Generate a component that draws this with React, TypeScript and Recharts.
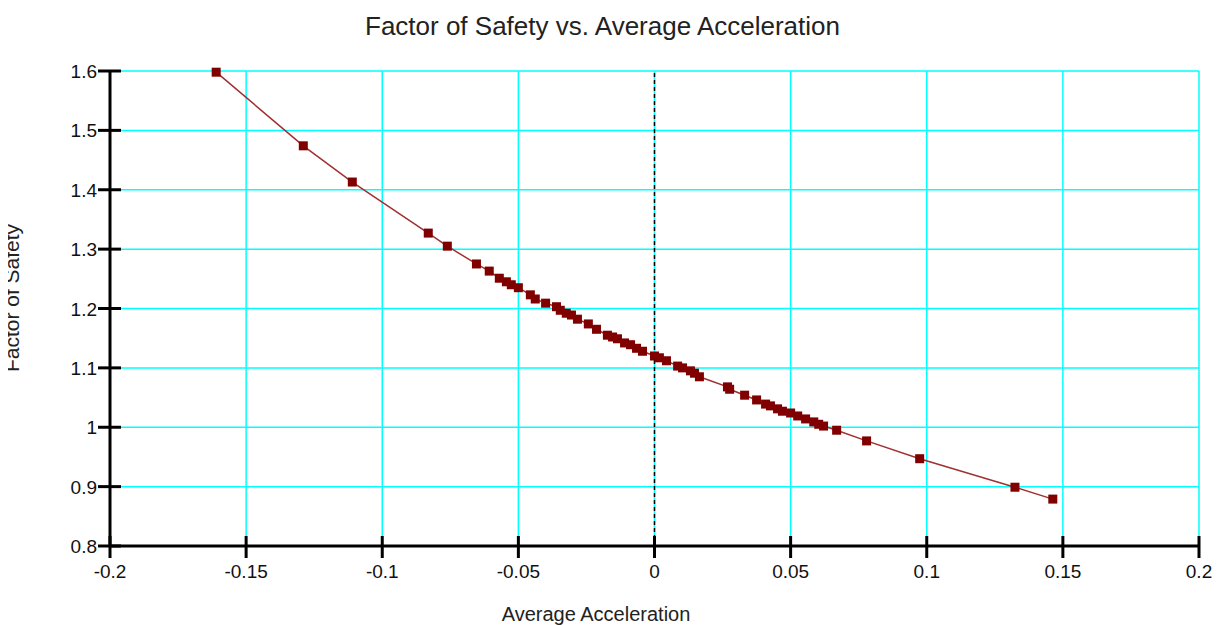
import { CartesianGrid, ReferenceLine, Scatter, ScatterChart, XAxis, YAxis } from 'recharts';

// values
const acceleration = [
	-0.161, -0.129, -0.111, -0.0831, -0.0761, -0.0654, -0.0607, -0.057, -0.0544, -0.0526, -0.05, -0.0456,
	-0.0438, -0.04, -0.036, -0.0346, -0.0324, -0.0305, -0.0283, -0.0243, -0.0213, -0.0173, -0.0154, -0.0136,
	-0.011, -0.0088, -0.0066, -0.0044, 0, 0.0018, 0.0044, 0.0085, 0.0103, 0.0132, 0.0147, 0.0165, 0.0268,
	0.0276, 0.0331, 0.0375, 0.0408, 0.0426, 0.0452, 0.047, 0.05, 0.0526, 0.0555, 0.0585, 0.0603, 0.0621,
	0.0669, 0.0779, 0.0974, 0.1324, 0.1463,
];
const factorOfSafety = [
	1.598, 1.474, 1.413, 1.327, 1.305, 1.275, 1.263, 1.251, 1.245, 1.24, 1.235, 1.223, 1.216, 1.209, 1.203,
	1.197, 1.192, 1.189, 1.182, 1.174, 1.165, 1.155, 1.152, 1.149, 1.142, 1.139, 1.133, 1.128, 1.12, 1.117,
	1.112, 1.103, 1.1, 1.095, 1.091, 1.085, 1.068, 1.064, 1.054, 1.046, 1.039, 1.036, 1.031, 1.027, 1.024,
	1.019, 1.014, 1.009, 1.005, 1.002, 0.995, 0.977, 0.947, 0.899, 0.879,
];
const xTicks = [-0.2, -0.15, -0.1, -0.05, 0, 0.05, 0.1, 0.15, 0.2];
const yTicks = [0.8, 0.9, 1, 1.1, 1.2, 1.3, 1.4, 1.5, 1.6];

const title = 'Factor of Safety vs. Average Acceleration';
const xLabel = 'Average Acceleration';
const yLabel = 'Factor of Safety';

const FONT = '"Liberation Sans", Arial, sans-serif';
const W = 1220;
const H = 625;

const data = acceleration.map((a, i) => ({ a, f: factorOfSafety[i] }));

const YTick = ({ x, y, payload }: any) => (
	<g>
		<line x1={x - 12} x2={x + 11} y1={y} y2={y} stroke='#000' strokeWidth={3} />
		<text x={x - 13} y={y + 7} textAnchor='end' fontFamily={FONT} fontSize={19} fill='#111'>
			{String(payload.value)}
		</text>
	</g>
);

const XTick = ({ x, y, payload }: any) => (
	<g>
		<line x1={x} x2={x} y1={y - 10} y2={y + 12} stroke='#000' strokeWidth={3} />
		<text x={x} y={y + 32} textAnchor='middle' fontFamily={FONT} fontSize={19} fill='#111'>
			{String(payload.value)}
		</text>
	</g>
);

const Square = ({ cx, cy }: any) => <rect x={cx - 4.5} y={cy - 4.5} width={9} height={9} fill='#800000' />;

const App = () => {
	// the wrapper cancels the body margin so chart pixels line up with page pixels
	return (
		<div style={{ position: 'relative', width: W, height: H, margin: '-8px 0 0 -8px' }}>
			<ScatterChart width={W} height={H} margin={{ top: 71, right: 21, bottom: 49, left: 0 }}>
				<CartesianGrid stroke='#00ffff' strokeWidth={1.5} />
				<XAxis
					type='number'
					dataKey='a'
					domain={[-0.2, 0.2]}
					ticks={xTicks}
					height={30}
					tickSize={0}
					tickMargin={0}
					tickLine={false}
					axisLine={{ stroke: '#000', strokeWidth: 3 }}
					tick={<XTick />}
					interval={0}
				/>
				<YAxis
					type='number'
					dataKey='f'
					domain={[0.8, 1.6]}
					ticks={yTicks}
					width={110}
					tickSize={0}
					tickMargin={0}
					tickLine={false}
					axisLine={{ stroke: '#000', strokeWidth: 3 }}
					tick={<YTick />}
					interval={0}
				/>
				<ReferenceLine x={0} stroke='#000' strokeWidth={1.5} strokeDasharray='4 3' />
				<Scatter
					data={data}
					line={{ stroke: '#a03030', strokeWidth: 1.5 }}
					shape={<Square />}
					isAnimationActive={false}
				/>
			</ScatterChart>
			<svg
				width={W}
				height={H}
				style={{ position: 'absolute', left: 0, top: 0, pointerEvents: 'none' }}>
				<text x={602.5} y={35} textAnchor='middle' fontFamily={FONT} fontSize={26} fill='#222'>
					{title}
				</text>
				<text x={596} y={621} textAnchor='middle' fontFamily={FONT} fontSize={20} fill='#222'>
					{xLabel}
				</text>
				<text
					x={0}
					y={0}
					transform='translate(19, 298) rotate(-90)'
					textAnchor='middle'
					fontFamily={FONT}
					fontSize={21}
					fill='#222'>
					{yLabel}
				</text>
			</svg>
		</div>
	);
};

export default App;
